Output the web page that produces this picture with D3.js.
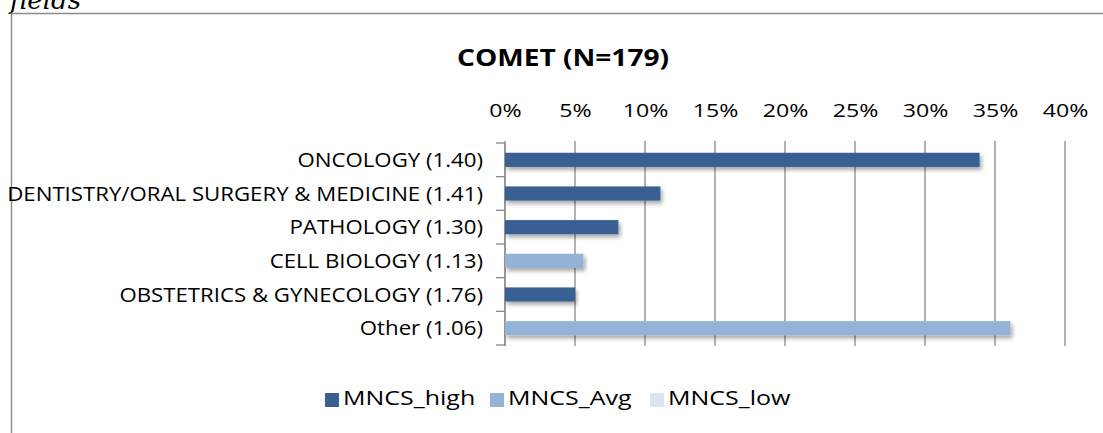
<!DOCTYPE html>
<html>
<head>
<meta charset="utf-8">
<script src="https://cdn.jsdelivr.net/npm/d3@7"></script>
<style>
  body { margin: 0; background: #fff; }
  svg { display: block; font-family: "Open Sans", sans-serif; }
</style>
</head>
<body>
<div id="chart"></div>
<script>
// chart data
const categories = [
  'ONCOLOGY (1.40)',
  'DENTISTRY/ORAL SURGERY & MEDICINE (1.41)',
  'PATHOLOGY (1.30)',
  'CELL BIOLOGY (1.13)',
  'OBSTETRICS & GYNECOLOGY (1.76)',
  'Other (1.06)'
];
const mncsHigh = [33.9, 11.1, 8.1, null, 5.0, null];
const mncsAvg = [null, null, null, 5.6, null, 36.1];
const mncsLow = [null, null, null, null, null, null];
const seriesNames = ['MNCS_high', 'MNCS_Avg', 'MNCS_low'];
const xTicks = [0, 5, 10, 15, 20, 25, 30, 35, 40];

const width = 1103;
const height = 433;
const colors = ['#386192', '#95b3d7', '#dce6f2'];

// the source font is wider than Open Sans, so text gets stretched a bit
function placeText(g, x, y, sx) {
  return g.append('text')
    .attr('transform', 'translate(' + x + ',' + y + ') scale(' + sx + ',1)');
}

const svg = d3.select('#chart')
  .append('svg')
  .attr('width', width)
  .attr('height', height);

const defs = svg.append('defs');
const shadow = defs.append('filter')
  .attr('id', 'shadow')
  .attr('x', '-5%').attr('y', '-30%')
  .attr('width', '110%').attr('height', '180%');
shadow.append('feDropShadow')
  .attr('dx', 2).attr('dy', 3)
  .attr('stdDeviation', 2)
  .attr('flood-color', '#000')
  .attr('flood-opacity', 0.35);

// cut-off caption above the frame
svg.append('text')
  .attr('x', 10)
  .attr('y', 9)
  .attr('font-family', '"DejaVu Serif", "Liberation Serif", serif')
  .attr('font-style', 'italic')
  .attr('font-size', 26)
  .attr('fill', '#000')
  .text('fields');

// outer frame (top and left edges visible)
svg.append('path')
  .attr('d', 'M11.5,' + height + ' V13.5 H' + width)
  .attr('fill', 'none')
  .attr('stroke', '#8c8c8c')
  .attr('stroke-width', 1.5);

placeText(svg, 563, 66, 1.17)
  .attr('text-anchor', 'middle')
  .attr('font-weight', 'bold')
  .attr('font-size', 24)
  .attr('fill', '#000')
  .text('COMET (N=179)');

const plot = {left: 505, right: 1065, top: 143, bottom: 345};

const xScale = d3.scaleLinear()
  .domain([0, 40])
  .range([plot.left, plot.right]);

const yScale = d3.scaleBand()
  .domain(categories)
  .range([plot.top, plot.bottom])
  .paddingInner(0.58)
  .paddingOuter(0.29);

const yOuter = d3.scaleBand()
  .domain(categories)
  .range([plot.top, plot.bottom]);

// vertical gridlines
svg.append('g')
  .selectAll('line')
  .data(xTicks)
  .enter()
  .append('line')
  .attr('x1', d => xScale(d))
  .attr('x2', d => xScale(d))
  .attr('y1', plot.top - 2)
  .attr('y2', plot.bottom + 1)
  .attr('stroke', '#8a8a8a')
  .attr('stroke-width', 1.3);

// top tick labels
const xAxis = d3.axisTop(xScale)
  .tickValues(xTicks)
  .tickSize(0)
  .tickPadding(0)
  .tickFormat(d => d + '%');

svg.append('g')
  .attr('transform', 'translate(0,' + 117 + ')')
  .call(xAxis)
  .call(g => g.select('.domain').remove())
  .selectAll('text')
  .attr('transform', 'scale(1.22,1)')
  .attr('font-family', '"Open Sans", sans-serif')
  .attr('font-size', 19)
  .attr('fill', '#000');

// category axis with ticks at band boundaries
const yAxisG = svg.append('g');
yAxisG.append('line')
  .attr('x1', plot.left).attr('x2', plot.left)
  .attr('y1', plot.top).attr('y2', plot.bottom + 1)
  .attr('stroke', '#8a8a8a')
  .attr('stroke-width', 1.3);
const boundaries = categories.map(c => yOuter(c)).concat([plot.bottom]);
yAxisG.selectAll('.btick')
  .data(boundaries)
  .enter()
  .append('line')
  .attr('class', 'btick')
  .attr('x1', plot.left - 9).attr('x2', plot.left)
  .attr('y1', d => d).attr('y2', d => d)
  .attr('stroke', '#8a8a8a')
  .attr('stroke-width', 1.3);

categories.forEach(function (c) {
  placeText(yAxisG, 483, yOuter(c) + yOuter.bandwidth() / 2, 1.14)
    .attr('dy', '0.36em')
    .attr('text-anchor', 'end')
    .attr('font-size', 19.5)
    .attr('fill', '#000')
    .text(c);
});

// bars
const series = [mncsHigh, mncsAvg, mncsLow];
series.forEach(function (vals, si) {
  const rows = categories.map((c, i) => ({cat: c, val: vals[i]}))
    .filter(d => d.val !== null);
  svg.append('g')
    .selectAll('rect')
    .data(rows)
    .enter()
    .append('rect')
    .attr('x', xScale(0))
    .attr('y', d => yScale(d.cat))
    .attr('width', d => xScale(d.val) - xScale(0))
    .attr('height', yScale.bandwidth())
    .attr('fill', colors[si])
    .attr('filter', 'url(#shadow)');
});

// legend
const legendX = [325, 490, 650];
const legend = svg.append('g');
seriesNames.forEach(function (name, i) {
  legend.append('rect')
    .attr('x', legendX[i])
    .attr('y', 393)
    .attr('width', 14)
    .attr('height', 14)
    .attr('fill', colors[i]);
  placeText(legend, legendX[i] + 18, 405, 1.22)
    .attr('font-size', 20.5)
    .attr('fill', '#000')
    .text(name);
});
</script>
</body>
</html>
